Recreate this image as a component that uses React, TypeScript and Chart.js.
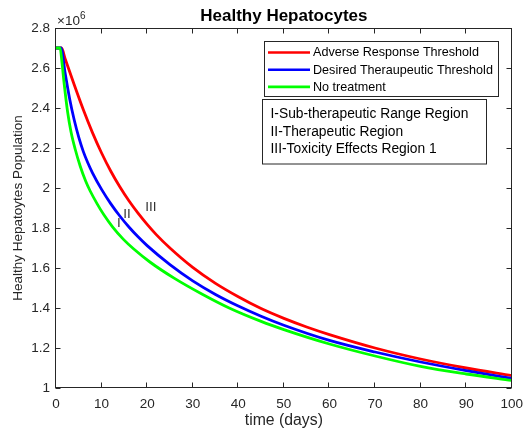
import { useEffect, useRef } from "react";
import { Chart, registerables } from "chart.js";

Chart.register(...registerables);

// ---- data (population in millions, i.e. ×10^6) ----
const POP_SCALE = 1e6;

const adverseDays = [0, 1.2, 2, 4, 6, 8, 10, 12, 14, 16, 18, 20, 22, 25, 30, 35, 40, 45, 50, 55, 60, 70, 80, 90, 100];
const adverseValues = [2.7, 2.7, 2.647, 2.516, 2.391, 2.277, 2.175, 2.085, 2.006, 1.936, 1.874, 1.818, 1.767, 1.7, 1.603, 1.523, 1.456, 1.397, 1.348, 1.305, 1.267, 1.2, 1.145, 1.1, 1.062];

const desiredDays = [0, 1.1, 2, 3, 4, 5, 6, 7, 8, 10, 12, 14, 16, 18, 20, 25, 30, 35, 40, 45, 50, 60, 70, 80, 90, 100];
const desiredValues = [2.7, 2.7, 2.575, 2.445, 2.34, 2.253, 2.182, 2.125, 2.076, 1.993, 1.922, 1.86, 1.805, 1.756, 1.712, 1.617, 1.536, 1.468, 1.41, 1.359, 1.314, 1.238, 1.18, 1.13, 1.087, 1.048];

const noTreatDays = [0, 0.9, 1.3, 1.8, 2.55, 3.3, 4.2, 5.3, 6.5, 7.5, 9, 10.5, 12.4, 14.8, 17, 20.6, 26, 32, 38, 45, 50, 60, 70, 80, 90, 100];
const noTreatValues = [2.7, 2.7, 2.63, 2.52, 2.38, 2.28, 2.195, 2.11, 2.035, 1.985, 1.922, 1.866, 1.806, 1.743, 1.696, 1.63, 1.548, 1.47, 1.4, 1.333, 1.292, 1.22, 1.16, 1.108, 1.07, 1.038];

const seriesNames = ["Adverse Response Threshold", "Desired Theraupeutic Threshold", "No treatment"];
const seriesColors = ["#ff0000", "#0000ff", "#00ff00"];

const regionNotes = ["I-Sub-therapeutic Range Region", "II-Therapeutic Region", "III-Toxicity Effects Region 1"];
const regionMarks = ["I", "II", "III"];
const regionMarkDays = [13.8, 15.6, 20.8];
const regionMarkValues = [1.825, 1.87, 1.905];

const xTicks = [0, 10, 20, 30, 40, 50, 60, 70, 80, 90, 100];
const yTicks = [1, 1.2, 1.4, 1.6, 1.8, 2, 2.2, 2.4, 2.6, 2.8];

const chartTitle = "Healthy Hepatocytes";
const xTitle = "time (days)";
const yTitle = "Healthy Hepatoytes Population";

const FONT = '"Liberation Sans", Arial, Helvetica, sans-serif';
const TEXT = "#262626";

function toPoints(days: number[], vals: number[]) {
  return days.map((d, i) => ({ x: d, y: vals[i] * POP_SCALE }));
}

const overlay = {
  id: "overlay",
  afterDraw(chart: any) {
    const ctx = chart.ctx as CanvasRenderingContext2D;
    const a = chart.chartArea;
    const xs = chart.scales.x;
    const ys = chart.scales.y;
    ctx.save();

    // axes box
    ctx.strokeStyle = TEXT;
    ctx.lineWidth = 1;
    const L = Math.round(a.left) - 0.5;
    const R = Math.round(a.right) - 0.5;
    const T = Math.round(a.top) + 0.5;
    const B = Math.round(a.bottom) - 0.5;
    ctx.strokeRect(L, T, R - L, B - T);

    // inward ticks
    const tl = 5;
    ctx.beginPath();
    xTicks.forEach((v) => {
      const px = Math.round(xs.getPixelForValue(v)) - 0.5;
      ctx.moveTo(px, B);
      ctx.lineTo(px, B - tl);
      ctx.moveTo(px, T);
      ctx.lineTo(px, T + tl);
    });
    yTicks.forEach((v) => {
      const py = Math.round(ys.getPixelForValue(v * POP_SCALE)) + 0.5;
      ctx.moveTo(L, py);
      ctx.lineTo(L + tl, py);
      ctx.moveTo(R, py);
      ctx.lineTo(R - tl, py);
    });
    ctx.stroke();

    // title
    ctx.fillStyle = "#000";
    ctx.font = `bold 17px ${FONT}`;
    ctx.textAlign = "center";
    ctx.textBaseline = "alphabetic";
    ctx.fillText(chartTitle, (a.left + a.right) / 2, 21);

    // exponent label
    ctx.fillStyle = TEXT;
    ctx.textAlign = "left";
    ctx.font = `13.5px ${FONT}`;
    ctx.fillText("×10", a.left + 1, 25);
    const w = ctx.measureText("×10").width;
    ctx.font = `10px ${FONT}`;
    ctx.fillText("6", a.left + 1 + w, 19);

    // region marks on curves
    ctx.font = `13.5px ${FONT}`;
    ctx.fillStyle = "#333333";
    ctx.textAlign = "center";
    ctx.textBaseline = "middle";
    regionMarks.forEach((m, i) => {
      ctx.fillText(m, xs.getPixelForValue(regionMarkDays[i]), ys.getPixelForValue(regionMarkValues[i] * POP_SCALE));
    });

    // legend box
    ctx.textAlign = "left";
    ctx.fillStyle = "#fff";
    ctx.fillRect(264.5, 41.5, 234, 55);
    ctx.strokeStyle = TEXT;
    ctx.lineWidth = 1;
    ctx.strokeRect(264.5, 41.5, 234, 55);
    ctx.font = `12.6px ${FONT}`;
    seriesNames.forEach((n, i) => {
      const y = 52.5 + i * 17.2;
      ctx.strokeStyle = seriesColors[i];
      ctx.lineWidth = 2.6;
      ctx.beginPath();
      ctx.moveTo(268, y);
      ctx.lineTo(310, y);
      ctx.stroke();
      ctx.fillStyle = "#000";
      ctx.fillText(n, 313, y + 0.5);
    });

    // notes box
    ctx.fillStyle = "#fff";
    ctx.fillRect(262.5, 99.5, 224, 64.5);
    ctx.strokeStyle = TEXT;
    ctx.lineWidth = 1;
    ctx.strokeRect(262.5, 99.5, 224, 64.5);
    ctx.font = `13.8px ${FONT}`;
    ctx.fillStyle = "#000";
    regionNotes.forEach((n, i) => {
      ctx.fillText(n, 270.5, 114.5 + i * 17.3);
    });

    ctx.restore();
  },
};

export default function App() {
  const ref = useRef<HTMLCanvasElement | null>(null);
  useEffect(() => {
    if (!ref.current) return;
    const mk = (label: string, days: number[], vals: number[], color: string, order: number) => ({
      label,
      data: toPoints(days, vals),
      borderColor: color,
      backgroundColor: color,
      borderWidth: 2.8,
      pointRadius: 0,
      fill: false,
      cubicInterpolationMode: "monotone" as const,
      order,
    });
    const chart = new Chart(ref.current, {
      type: "line",
      data: {
        datasets: [
          mk(seriesNames[0], adverseDays, adverseValues, seriesColors[0], 3),
          mk(seriesNames[1], desiredDays, desiredValues, seriesColors[1], 2),
          mk(seriesNames[2], noTreatDays, noTreatValues, seriesColors[2], 1),
        ],
      },
      options: {
        responsive: false,
        maintainAspectRatio: false,
        devicePixelRatio: 1,
        animation: false,
        events: [],
        layout: { padding: { top: 28, right: 19, left: 0, bottom: 0 } },
        plugins: {
          legend: { display: false },
          title: { display: false },
          tooltip: { enabled: false },
        },
        scales: {
          x: {
            type: "linear",
            min: 0,
            max: 100,
            afterBuildTicks: (s: any) => {
              s.ticks = xTicks.map((v) => ({ value: v }));
            },
            ticks: {
              color: TEXT,
              font: { family: FONT, size: 13.5 },
              padding: 8,
              maxRotation: 0,
              autoSkip: false,
            },
            grid: { display: false, drawTicks: false },
            border: { display: false },
            title: {
              display: true,
              text: xTitle,
              color: TEXT,
              font: { family: FONT, size: 15.8 },
              padding: { top: 6.5, bottom: 6.5 },
            },
            afterFit: (s: any) => {
              s.height = 49;
            },
          },
          y: {
            type: "linear",
            min: 1 * POP_SCALE,
            max: 2.8 * POP_SCALE,
            afterBuildTicks: (s: any) => {
              s.ticks = yTicks.map((v) => ({ value: v * POP_SCALE }));
            },
            ticks: {
              color: TEXT,
              font: { family: FONT, size: 13.5 },
              padding: 6,
              autoSkip: false,
              callback: (v: any) => String(Math.round(Number(v) / 1e5) / 10),
            },
            grid: { display: false, drawTicks: false },
            border: { display: false },
            title: {
              display: true,
              text: yTitle,
              color: TEXT,
              font: { family: FONT, size: 13.5 },
              padding: { top: 10.5, bottom: 10.5 },
            },
            afterFit: (s: any) => {
              s.width = 56;
            },
          },
        },
      },
      plugins: [overlay],
    });
    return () => chart.destroy();
  }, []);
  return (
    <div style={{ position: "fixed", left: 0, top: 0, width: 531, height: 437, background: "#fff" }}>
      <canvas ref={ref} width={531} height={437} style={{ width: 531, height: 437 }} />
    </div>
  );
}
